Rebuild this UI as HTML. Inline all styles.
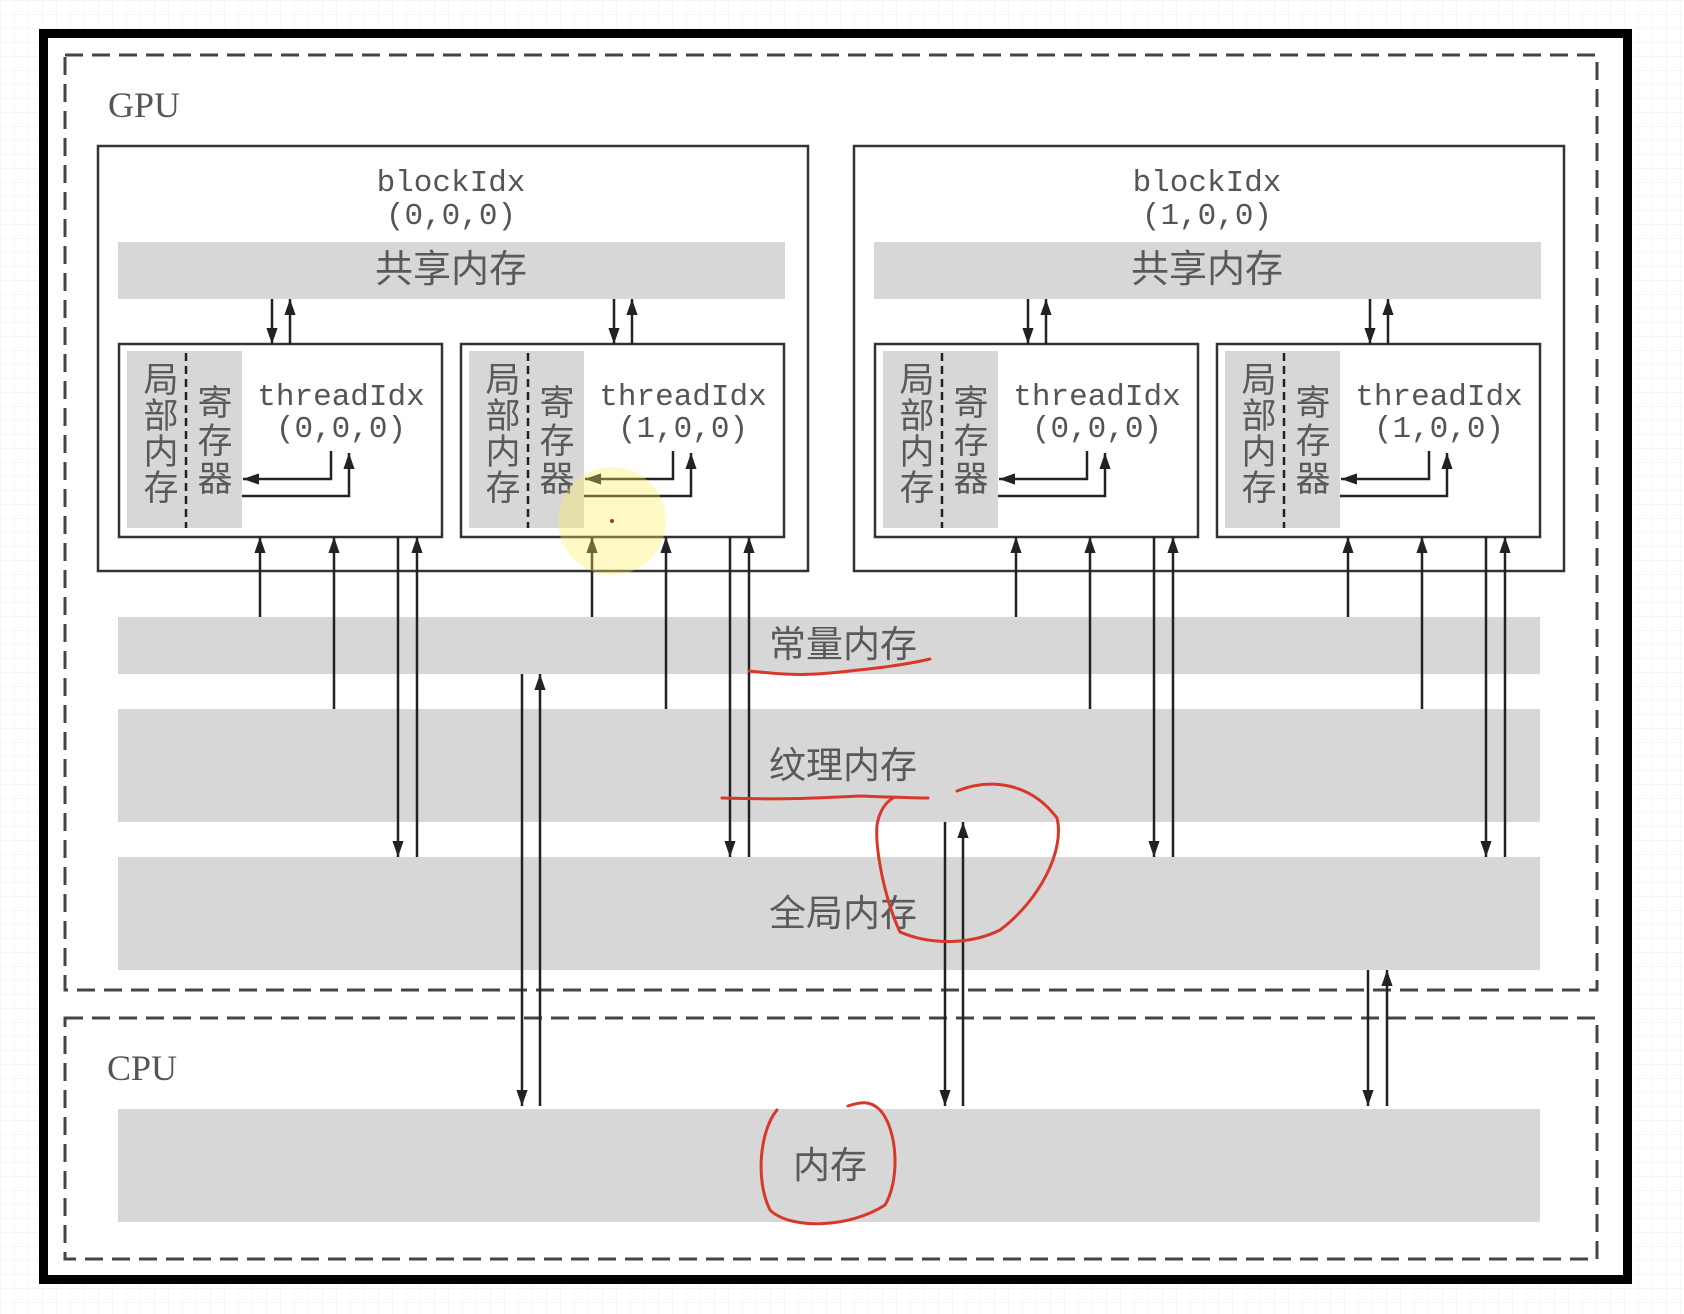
<!DOCTYPE html>
<html><head><meta charset="utf-8"><style>
html,body{margin:0;padding:0;background:#fff;}
svg{display:block;}
.mono{font-family:"Liberation Mono","DejaVu Sans Mono",monospace;font-size:31px;fill:#555;}
.cjk{font-family:"Liberation Sans","Noto Sans CJK SC",sans-serif;fill:#5a5a5a;}
</style></head><body>
<svg id="chart" width="1684" height="1314" viewBox="0 0 1684 1314" xmlns="http://www.w3.org/2000/svg">
<defs>
<pattern id="grid" width="14" height="14" patternUnits="userSpaceOnUse"><path d="M14 0H0V14" fill="none" stroke="#ececec" stroke-width="1"/></pattern>
<marker id="ah" viewBox="0 0 10 10" refX="10" refY="5" markerWidth="16" markerHeight="16" markerUnits="userSpaceOnUse" orient="auto"><path d="M0,1.5 L10,5 L0,8.5 z" fill="#222"/></marker>
</defs>
<rect x="0" y="0" width="1684" height="1314" fill="url(#grid)"/>
<rect x="43.5" y="33.5" width="1584" height="1246" fill="#fff" stroke="#000" stroke-width="9"/>
<rect x="65" y="55" width="1532" height="935" fill="none" stroke="#444" stroke-width="3" stroke-dasharray="18,9"/>
<rect x="65" y="1018" width="1532" height="241" fill="none" stroke="#444" stroke-width="3" stroke-dasharray="18,9"/>
<text x="108" y="117" font-family="Liberation Serif,serif" font-size="36" fill="#555">GPU</text>
<text x="107" y="1080" font-family="Liberation Serif,serif" font-size="36" fill="#555">CPU</text>
<g id="blocks"></g>
<rect x="118" y="617" width="1422" height="57" fill="#d7d7d8"/>
<text x="843" y="657" text-anchor="middle" class="cjk" font-size="37">常量内存</text>
<rect x="118" y="709" width="1422" height="113" fill="#d7d7d8"/>
<text x="843" y="778" text-anchor="middle" class="cjk" font-size="37">纹理内存</text>
<rect x="118" y="857" width="1422" height="113" fill="#d7d7d8"/>
<text x="843" y="926" text-anchor="middle" class="cjk" font-size="37">全局内存</text>
<rect x="118" y="1109" width="1422" height="113" fill="#d7d7d8"/>
<text x="830" y="1178" text-anchor="middle" class="cjk" font-size="37">内存</text>
<g id="arrows"></g>
<circle cx="612" cy="521" r="54" fill="rgba(255,238,90,0.35)"/>
<circle cx="612" cy="521" r="2" fill="#a33"/>
<g fill="none" stroke="#d8382a" stroke-width="3" stroke-linecap="round">
<path d="M749,671 C780,674 800,676 830,673 C870,669 900,666 930,659"/>
<path d="M722,798 C780,800 820,798 860,796 C890,797 910,798 928,798"/>
<path d="M957,791 C990,778 1030,782 1057,818 C1065,850 1040,900 1000,930 C970,945 930,945 900,932 C885,900 875,850 877,825 C880,808 888,801 893,798"/>
<path d="M777,1110 C760,1130 755,1180 770,1210 C790,1230 850,1228 885,1205 C900,1180 898,1130 880,1110 C870,1100 860,1102 848,1106"/>
</g>
</svg>
<script>
const NS='http://www.w3.org/2000/svg';
const blockXs=[98,854];
const blockLabels=['(0,0,0)','(1,0,0)'];
const threadOffsets=[21,363];
const threadLabels=['(0,0,0)','(1,0,0)'];
const arrowShift=[0,-10];
const hostLinks=[[522,540,674],[945,963,822],[1368,1387,970]];
function mk(tag,attrs,parent){const e=document.createElementNS(NS,tag);for(const k in attrs)e.setAttribute(k,attrs[k]);parent.appendChild(e);return e;}
function line(x1,y1,x2,y2,arrow,parent){const l=mk('line',{x1,y1,x2,y2,stroke:'#222','stroke-width':2.5},parent);if(arrow)l.setAttribute('marker-end','url(#ah)');return l;}
const B=document.getElementById('blocks');
const A=document.getElementById('arrows');
blockXs.forEach((bx,bi)=>{
  const g=mk('g',{},B);
  
  
  const r=mk('rect',{x:bx,y:146,width:710,height:425,fill:'#fff',stroke:'#333','stroke-width':2.5},g);
  
  
  const cx=bx+353;
  const t1=mk('text',{x:cx,y:191,'text-anchor':'middle',class:'mono'},g);t1.textContent='blockIdx';
  
  
  const t2=mk('text',{x:cx,y:224,'text-anchor':'middle',class:'mono'},g);t2.textContent=blockLabels[bi];
  
  
  const sm=mk('rect',{x:bx+20,y:242,width:667,height:57,fill:'#d7d7d8'},g);
  
  
  const st=mk('text',{x:cx,y:282,'text-anchor':'middle',class:'cjk','font-size':38},g);st.textContent='共享内存';
  
  
  threadOffsets.forEach((to,ti)=>{
    const tx=bx+to;
    const sx=tx+arrowShift[ti];
    const tg=mk('g',{},g);
    
    
    const tr=mk('rect',{x:tx,y:344,width:323,height:193,fill:'#fff',stroke:'#333','stroke-width':2.5},tg);
    
    
    const gr=mk('rect',{x:tx+8,y:351,width:115,height:177,fill:'#d7d7d8'},tg);
    
    
    mk('line',{x1:tx+67,y1:353,x2:tx+67,y2:528,stroke:'#222','stroke-width':2.5,'stroke-dasharray':'8,5'},tg);
    ['局','部','内','存'].forEach((c,i)=>{const e=mk('text',{x:tx+42,y:392+i*36,'text-anchor':'middle',class:'cjk','font-size':35},tg);e.textContent=c;
      
      });
    ['寄','存','器'].forEach((c,i)=>{const e=mk('text',{x:tx+96,y:415+i*38,'text-anchor':'middle',class:'cjk','font-size':35},tg);e.textContent=c;
      
      });
    const a=mk('text',{x:tx+222,y:405,'text-anchor':'middle',class:'mono'},tg);a.textContent='threadIdx';
    
    
    const b=mk('text',{x:tx+222,y:437,'text-anchor':'middle',class:'mono'},tg);b.textContent=threadLabels[ti];
    
    
    mk('polyline',{points:`${tx+212},451 ${tx+212},479 ${tx+124},479`,fill:'none',stroke:'#222','stroke-width':2.5,'marker-end':'url(#ah)'},tg);
    mk('polyline',{points:`${tx+123},496 ${tx+230},496 ${tx+230},453`,fill:'none',stroke:'#222','stroke-width':2.5,'marker-end':'url(#ah)'},tg);
    line(tx+153,299,tx+153,344,true,A);
    line(tx+171,344,tx+171,299,true,A);
    line(sx+141,617,sx+141,537,true,A);
    line(sx+215,709,sx+215,537,true,A);
    line(sx+279,537,sx+279,857,true,A);
    line(sx+298,857,sx+298,537,true,A);
  });
});
hostLinks.forEach(([xd,xu,yt])=>{
  line(xd,yt,xd,1106,true,A);
  line(xu,1106,xu,yt,true,A);
});
</script>
</body></html>
